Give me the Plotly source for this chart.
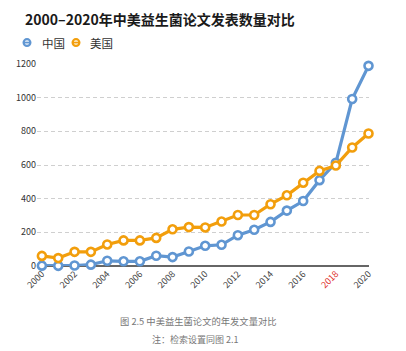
import plotly.graph_objects as go

years = list(range(2000, 2021))
china = [2, 1, 3, 8, 31, 28, 28, 61, 53, 86, 120, 126, 183, 215, 262, 329, 386, 510, 613, 992, 1189]
usa = [60, 47, 84, 84, 128, 152, 152, 167, 218, 231, 229, 264, 303, 303, 367, 420, 495, 565, 597, 704, 787]
tick_years = list(range(2000, 2021, 2))
tick_text = [str(y) if y != 2018 else '<span style="color:#e0322d">2018</span>' for y in tick_years]
y_ticks = [0, 200, 400, 600, 800, 1000, 1200]
series_names = ["中国", "美国"]

BLUE = "#6096d2"
ORANGE = "#f29e0c"
FONT = "Noto Sans CJK SC"

W, H = 406, 351
L, R, T, B = 37, 37, 64, 84.5
PW, PH = W - L - R, H - T - B


def px(x):
    return (x - L) / PW


def py(y):
    return (H - B - y) / PH


fig = go.Figure()
for name, vals, col in [(series_names[0], china, BLUE), (series_names[1], usa, ORANGE)]:
    fig.add_trace(go.Scatter(
        x=years, y=vals, name=name, mode="lines+markers",
        line=dict(color=col, width=3.2),
        marker=dict(symbol="circle", size=8, color="white", line=dict(color=col, width=2.6)),
        cliponaxis=False, showlegend=False,
    ))

# legend (drawn manually to match the compact style)
shapes = []
annotations = []
for cx, tx, col, name in [(27, 40, BLUE, series_names[0]), (76, 87.5, ORANGE, series_names[1])]:
    cy = 42.5
    shapes.append(dict(type="circle", xref="paper", yref="paper", x0=px(cx - 3.4), x1=px(cx + 3.4),
                       y0=py(cy - 3.4), y1=py(cy + 3.4), line=dict(color=col, width=2.2),
                       fillcolor="white", layer="above"))
    shapes.append(dict(type="line", xref="paper", yref="paper", x0=px(cx - 3.4), x1=px(cx + 3.4),
                       y0=py(cy), y1=py(cy), line=dict(color=col, width=1.8), layer="above"))
    annotations.append(dict(text=name, x=px(tx), y=py(cy), xref="paper", yref="paper", showarrow=False,
                            xanchor="left", yanchor="middle", font=dict(size=11.5, color="#333")))

annotations += [
    dict(text="图 2.5 中美益生菌论文的年发文量对比", x=px(198.5), y=py(322), xref="paper", yref="paper",
         showarrow=False, font=dict(size=9.3, color="#777"), xanchor="center", yanchor="middle"),
    dict(text="注：检索设置同图 2.1", x=px(195), y=py(340.5), xref="paper", yref="paper",
         showarrow=False, font=dict(size=9, color="#777"), xanchor="center", yanchor="middle"),
]

fig.update_layout(
    width=W, height=H,
    margin=dict(l=L, r=R, t=T, b=B),
    paper_bgcolor="white", plot_bgcolor="white",
    font=dict(family=FONT, size=9, color="#333"),
    title=dict(text="<b>2000–2020年中美益生菌论文发表数量对比</b>", x=25/W, xanchor="left",
               y=1-20.5/H, yanchor="middle", font=dict(size=14, color="#1a1a1a", family=FONT)),
    showlegend=False,
    xaxis=dict(range=[1999.7, 2020.03], tickvals=tick_years, ticktext=tick_text, tickangle=-45,
               showgrid=False, zeroline=False, showline=False, ticks="", automargin=False,
               tickfont=dict(size=9, color="#444")),
    yaxis=dict(range=[0, 1200], tickvals=y_ticks, showgrid=True, gridcolor="#cfcfcf",
               griddash="4px,3px", gridwidth=1, zeroline=True, zerolinecolor="#666", zerolinewidth=2,
               showline=False, ticks="", automargin=False, tickfont=dict(size=9, color="#333")),
    shapes=shapes,
    annotations=annotations,
)

fig.write_html("out.html")
